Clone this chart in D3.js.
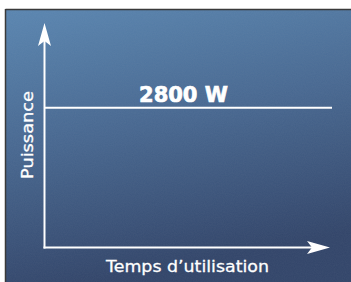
<!DOCTYPE html>
<html><head><meta charset="utf-8">
<script src="https://cdn.jsdelivr.net/npm/d3@7"></script>
<style>html,body{margin:0;padding:0;background:#fff;}svg{display:block;}</style>
</head><body>
<svg id="c" width="351" height="282"></svg>
<script>
// Data
const timePoints = [0, 1];
const powerValues = [2800, 2800];
const powerLabel = "2800 W";
const yTitle = "Puissance";
const xTitle = "Temps d\u2019utilisation";

const W = 351, H = 282;
const svg = d3.select("#c");
const defs = svg.append("defs");
const grad = defs.append("linearGradient").attr("id","bg")
  .attr("x1","0").attr("y1","0").attr("x2","0.25").attr("y2","1");
grad.append("stop").attr("offset","0").attr("stop-color","#5a86b1");
grad.append("stop").attr("offset","0.5").attr("stop-color","#476790");
grad.append("stop").attr("offset","1").attr("stop-color","#32456a");

// noise
const f = defs.append("filter").attr("id","noise").attr("x",0).attr("y",0).attr("width","100%").attr("height","100%");
f.append("feTurbulence").attr("type","fractalNoise").attr("baseFrequency","0.9").attr("numOctaves","2").attr("seed","3").attr("result","t");
f.append("feColorMatrix").attr("in","t").attr("type","matrix")
  .attr("values","0 0 0 0 0.5  0 0 0 0 0.5  0 0 0 0 0.5  0 0 0 0.12 0");
f.append("feComposite").attr("in2","SourceGraphic").attr("operator","in");

svg.append("rect").attr("x",6).attr("y",10).attr("width",W-6).attr("height",H-10).attr("fill","url(#bg)");
svg.append("rect").attr("x",6).attr("y",10).attr("width",W-6).attr("height",H-10).attr("fill","#fff").attr("filter","url(#noise)").attr("opacity",0.6);
svg.append("line").attr("x1",5.5).attr("x2",W).attr("y1",9.5).attr("y2",9.5).attr("stroke","#3a3a3a").attr("stroke-width",1.5);
svg.append("line").attr("x1",5.5).attr("x2",5.5).attr("y1",9).attr("y2",H).attr("stroke","#3a3a3a").attr("stroke-width",1.5);

// Scales
const x = d3.scaleLinear().domain([0,1]).range([44.5, 332]);
const y = d3.scaleLinear().domain([0,4500]).range([247.5, 23]);

const g = svg.append("g");
// axes
g.append("line").attr("x1",x(0)).attr("x2",x(0)).attr("y1",y(0)+1).attr("y2",y(4500)+10)
  .attr("stroke","#fff").attr("stroke-width",2);
g.append("line").attr("x1",x(0)-1).attr("x2",318).attr("y1",y(0)).attr("y2",y(0))
  .attr("stroke","#fff").attr("stroke-width",2);
// arrowheads
const ax = x(0), tipY = y(4500);
g.append("path").attr("d",`M${ax},${tipY} L${ax+6.5},${tipY+23} L${ax},${tipY+18} L${ax-6.5},${tipY+23} Z`).attr("fill","#fff");
const tipX = 330, ay = y(0);
g.append("path").attr("d",`M${tipX},${ay} L${tipX-23},${ay-6.5} L${tipX-18},${ay} L${tipX-23},${ay+6.5} Z`).attr("fill","#fff");

// power line
const line = d3.line().x((d,i)=>x(timePoints[i])).y(d=>y(d));
g.append("path").datum(powerValues).attr("d",line).attr("fill","none").attr("stroke","#fff").attr("stroke-width",2);

// labels
g.append("text").attr("x",183.5).attr("y",101.5).attr("text-anchor","middle")
  .attr("font-family","DejaVu Sans").attr("font-weight","bold").attr("font-size",21)
  .attr("fill","#fff").attr("stroke","#fff").attr("stroke-width",0.7).text(powerLabel);
g.append("text").attr("transform","translate(32.5,135) rotate(-90)").attr("text-anchor","middle")
  .attr("font-family","DejaVu Sans").attr("font-size",16.5)
  .attr("textLength",88).attr("lengthAdjust","spacingAndGlyphs")
  .attr("fill","#fff").attr("stroke","#fff").attr("stroke-width",0.3).text(yTitle);
g.append("text").attr("x",187.5).attr("y",272).attr("text-anchor","middle")
  .attr("font-family","DejaVu Sans").attr("font-size",16.5)
  .attr("textLength",163).attr("lengthAdjust","spacingAndGlyphs")
  .attr("fill","#fff").attr("stroke","#fff").attr("stroke-width",0.3).text(xTitle);
</script>
</body></html>
